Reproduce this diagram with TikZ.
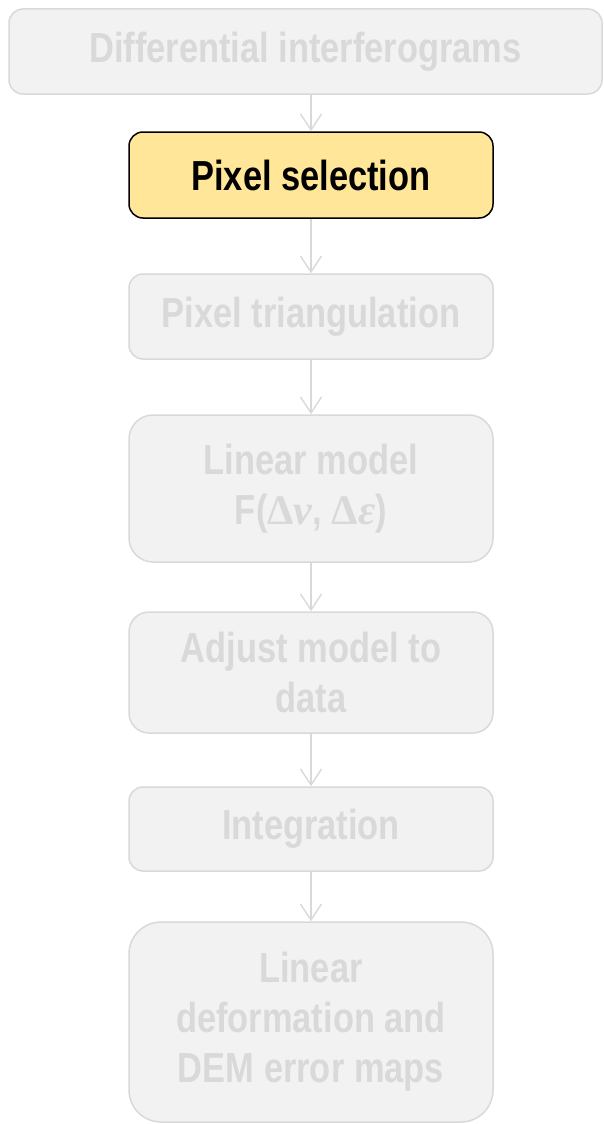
\documentclass[tikz,border=0pt]{standalone}
\usepackage{fontspec}
\setmainfont{Liberation Sans}[FakeStretch=0.82]
\newfontfamily\greekserif{Liberation Serif}
\usetikzlibrary{arrows.meta}
\definecolor{boxfill}{HTML}{F2F2F2}
\definecolor{boxline}{HTML}{D9D9D9}
\definecolor{boxtext}{HTML}{D9D9D9}
\definecolor{hlfill}{HTML}{FFE699}
\tikzset{
  flowbox/.style={draw=boxline, fill=boxfill, text=boxtext, line width=1.5pt,
    rectangle, align=center, inner sep=0pt,
    font=\fontsize{42}{50}\selectfont\bfseries},
  activebox/.style={flowbox, draw=black, fill=hlfill, text=black},
  flowarrow/.style={draw=boxline, line width=1.4pt,
    -{Straight Barb[length=16pt,width=21pt,line width=1.4pt]}},
}
\begin{document}
\begin{tikzpicture}[x=1pt,y=-1pt]
  \useasboundingbox (0,0) rectangle (604,1124);
  \node[flowbox, rounded corners=14pt, minimum width=593pt, minimum height=85pt]
    (diff) at (305.5,51.5) {Differential interferograms};
  \node[activebox, rounded corners=14pt, minimum width=364pt, minimum height=86pt]
    (sel) at (311,175) {Pixel selection};
  \node[flowbox, rounded corners=14pt, minimum width=364pt, minimum height=85pt]
    (tri) at (311,316.5) {Pixel triangulation};
  \node[flowbox, rounded corners=24pt, minimum width=364pt, minimum height=147pt]
    (lin) at (311,488.5) {Linear model\\F({\greekserif Δ\textit{ν}}, {\greekserif Δ\textit{ε}})};
  \node[flowbox, rounded corners=20pt, minimum width=364pt, minimum height=121pt]
    (adj) at (311,672.5) {Adjust model to\\data};
  \node[flowbox, rounded corners=14pt, minimum width=364pt, minimum height=84pt]
    (int) at (311,829) {Integration};
  \node[flowbox, rounded corners=32pt, minimum width=364pt, minimum height=200pt]
    (maps) at (311,1022) {Linear\\deformation and\\DEM error maps};
  \draw[flowarrow] (sel.north |- diff.south) -- (sel.north);
  \draw[flowarrow] (sel) -- (tri);
  \draw[flowarrow] (tri) -- (lin);
  \draw[flowarrow] (lin) -- (adj);
  \draw[flowarrow] (adj) -- (int);
  \draw[flowarrow] (int) -- (maps);
\end{tikzpicture}
\end{document}
